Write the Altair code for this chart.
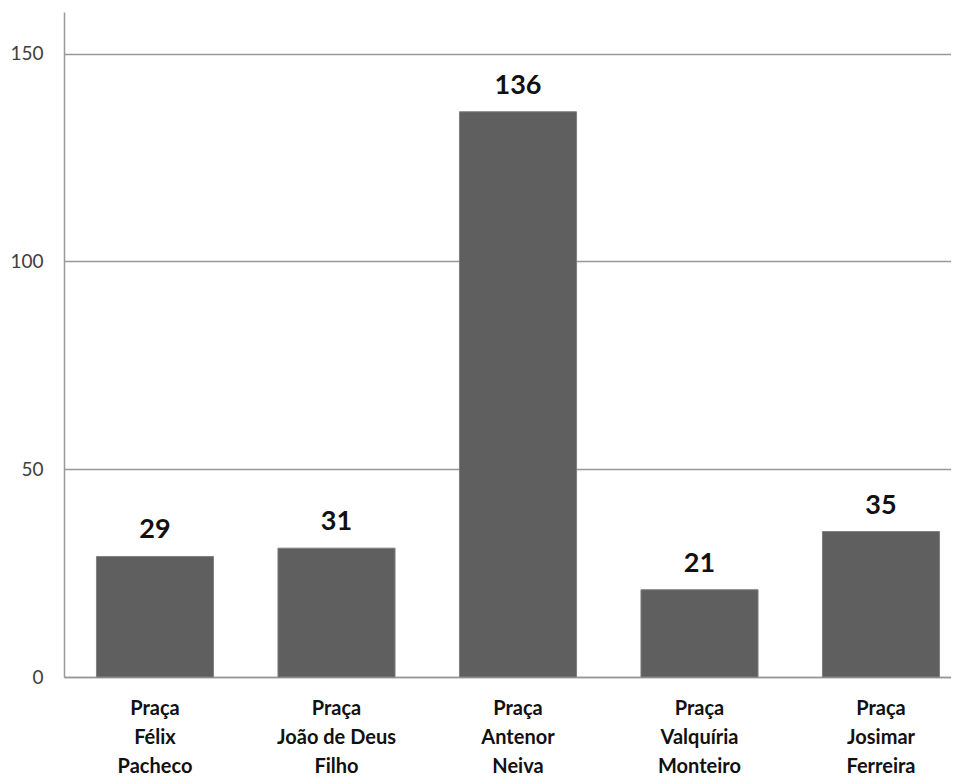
import altair as alt
import pandas as pd

categories = [
    "Praça|Félix|Pacheco",
    "Praça|João de Deus|Filho",
    "Praça|Antenor|Neiva",
    "Praça|Valquíria|Monteiro",
    "Praça|Josimar|Ferreira",
]
values = [29, 31, 136, 21, 35]
y_ticks = [0, 50, 100, 150]

df = pd.DataFrame({"cat": categories, "val": values})

x_enc = alt.X(
    "cat:N",
    sort=categories,
    title=None,
    scale=alt.Scale(paddingInner=0.355, paddingOuter=0.121, align=0.739),
    axis=alt.Axis(
        labelExpr="split(datum.label, '|')",
        labelAngle=0,
        labelFont="Lato",
        labelFontWeight="bold",
        labelFontSize=20,
        labelColor="#111111",
        labelLineHeight=29,
        labelPadding=21,
        ticks=False,
        domainColor="#999999",
        domainWidth=1.5,
        grid=False,
    ),
)

y_enc = alt.Y(
    "val:Q",
    title=None,
    scale=alt.Scale(domain=[0, 160], nice=False),
    axis=alt.Axis(
        values=y_ticks,
        ticks=False,
        labelFont="Lato",
        labelFontSize=19,
        labelColor="#404040",
        labelPadding=21,
        domainColor="#999999",
        domainWidth=1.5,
        gridColor="#999999",
        gridWidth=1.3,
        grid=True,
    ),
)

bars = alt.Chart(df).mark_bar(color="#5f5f5f", stroke="#808080", strokeWidth=1).encode(
    x=x_enc, y=y_enc
)

labels = alt.Chart(df).mark_text(
    font="Lato",
    fontWeight="bold",
    fontSize=27,
    color="#111111",
    baseline="alphabetic",
    dy=-18,
).encode(
    x=alt.X("cat:N", sort=categories),
    y=alt.Y("val:Q"),
    text=alt.Text("val:Q"),
)

chart = (
    alt.layer(bars, labels)
    .properties(
        width=887,
        height=665,
        autosize=alt.AutoSizeParams(type="none"),
        padding={"left": 56, "top": 4, "right": 0, "bottom": 98},
    )
    .configure_view(stroke=None)
)

chart.save("out.html", embed_options={"renderer": "svg", "actions": False})
